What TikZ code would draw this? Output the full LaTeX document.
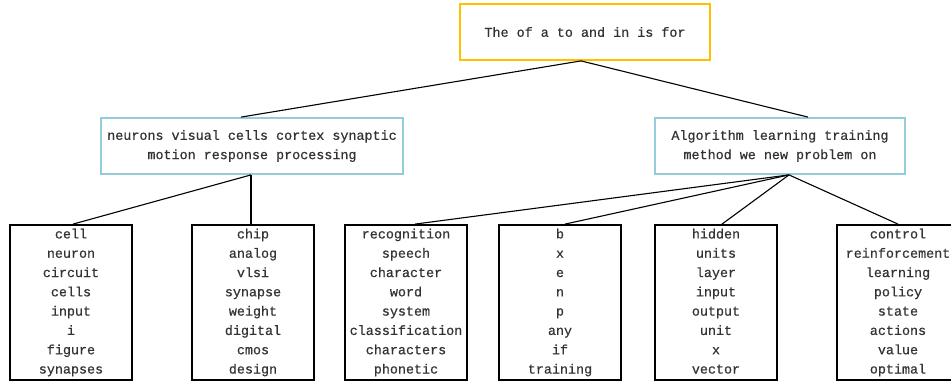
\documentclass[tikz,border=0pt]{standalone}
\usepackage{fontspec}
\setmainfont[FakeBold=0.6]{Liberation Mono}
\definecolor{topc}{HTML}{FFC000}
\definecolor{midc}{HTML}{92CDDC}
\definecolor{txt}{HTML}{333333}
\begin{document}
\begin{tikzpicture}[x=1pt,y=-1pt,
  every node/.style={font=\fontsize{13.4pt}{19.3pt}\selectfont, text=txt, align=center, inner sep=0pt},
  topbox/.style={draw=topc, line width=1.8pt, minimum width=250pt, minimum height=56pt},
  midbox/.style={draw=midc, line width=1.8pt, minimum width=302pt, minimum height=56pt},
  midboxb/.style={draw=midc, line width=1.8pt, minimum width=250pt, minimum height=56pt},
  leafbox/.style={draw=black, line width=1.8pt, minimum width=122pt, minimum height=155pt},
  conn/.style={draw=black, line width=1.1pt}]
\useasboundingbox (0,0) rectangle (951,381);
\node[topbox] (top) at (585,32) {The of a to and in is for};
\node[midbox] (m1) at (252,146) {neurons visual cells cortex synaptic\\motion response processing};
\node[midboxb] (m2) at (780,146) {Algorithm learning training\\method we new problem on};
\node[leafbox] (b1) at (71,302.5) {cell\\neuron\\circuit\\cells\\input\\i\\figure\\synapses};
\node[leafbox] (b2) at (253,302.5) {chip\\analog\\vlsi\\synapse\\weight\\digital\\cmos\\design};
\node[leafbox] (b3) at (406,302.5) {recognition\\speech\\character\\word\\system\\classification\\characters\\phonetic};
\node[leafbox] (b4) at (560,302.5) {b\\x\\e\\n\\p\\any\\if\\training};
\node[leafbox] (b5) at (716,302.5) {hidden\\units\\layer\\input\\output\\unit\\x\\vector\vphantom{g}};
\node[leafbox] (b6) at (898,302.5) {control\\reinforcement\\learning\\policy\\state\\actions\\value\\optimal};
\draw[conn] ([xshift=-4pt]top.south) -- ([xshift=-11pt]m1.north);
\draw[conn] ([xshift=-4pt]top.south) -- ([xshift=28pt]m2.north);
\draw[conn] ([xshift=-1pt]m1.south) -- ([xshift=2pt]b1.north);
\draw[conn] ([xshift=-1pt]m1.south) -- ([xshift=-2pt]b2.north);
\draw[conn] ([xshift=9pt]m2.south) -- ([xshift=9pt]b3.north);
\draw[conn] ([xshift=9pt]m2.south) -- ([xshift=5pt]b4.north);
\draw[conn] ([xshift=9pt]m2.south) -- ([xshift=6pt]b5.north);
\draw[conn] ([xshift=9pt]m2.south) -- ([xshift=0pt]b6.north);
\end{tikzpicture}
\end{document}
